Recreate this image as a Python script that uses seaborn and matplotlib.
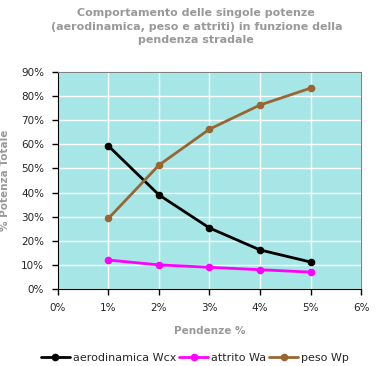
import pandas as pd
import matplotlib
matplotlib.use('Agg')
import matplotlib.pyplot as plt
import seaborn as sns

pendenze = [1, 2, 3, 4, 5]
aerodinamica = [59.3, 39.0, 25.3, 16.2, 11.2]
attrito = [12.0, 10.0, 9.0, 8.0, 7.0]
peso = [29.3, 51.4, 66.3, 76.3, 83.3]
serie = ['aerodinamica Wcx', 'attrito Wa', 'peso Wp']
colori = ['#000000', '#FF00FF', '#996633']

df = pd.DataFrame({
    'Pendenza': pendenze * 3,
    'Valore': aerodinamica + attrito + peso,
    'Serie': [serie[0]] * 5 + [serie[1]] * 5 + [serie[2]] * 5,
})

sns.set_style('white')
plt.rcParams['font.family'] = ['DejaVu Sans']

fig = plt.figure(figsize=(3.85, 3.66), dpi=100)
ax = fig.add_axes([0.1506, 0.2104, 0.7871, 0.5929])
ax.set_facecolor('#A6E6E6')
g = sns.lineplot(data=df, x='Pendenza', y='Valore', hue='Serie', palette=colori,
                 marker='o', markersize=5.5, markeredgewidth=0, linewidth=2, ax=ax)

ax.set_xlim(0, 6)
ax.set_ylim(0, 90)
ax.set_xticks(range(0, 7))
ax.set_xticklabels([f'{i}%' for i in range(0, 7)], fontsize=7.5)
ax.set_yticks(range(0, 91, 10))
ax.set_yticklabels([f'{i}%' for i in range(0, 91, 10)], fontsize=7.5)
ax.grid(True, color='white', linewidth=1)
ax.tick_params(axis='both', direction='out', length=4, width=1, color='black',
               bottom=True, left=True, pad=6)
for s in ['left', 'bottom']:
    ax.spines[s].set_color('black')
for s in ['top', 'right']:
    ax.spines[s].set_color('#808080')

ax.set_xlabel('Pendenze %', fontsize=7.5, fontweight='bold', color='#999999')
ax.xaxis.set_label_coords(0.5, -0.17)
ax.set_ylabel('% Potenza Totale', fontsize=7.5, fontweight='bold', color='#999999')
ax.yaxis.set_label_coords(-0.158, 0.5)

fig.text(0.51, 0.978, 'Comportamento delle singole potenze\n(aerodinamica, peso e attriti) in funzione della\npendenza stradale',
         ha='center', va='top', fontsize=8, fontweight='bold', color='#999999', linespacing=1.45)

ax.legend(loc='center', bbox_to_anchor=(0.452, -0.318), ncol=3, frameon=False,
          fontsize=8, handlelength=2.6, columnspacing=0.3, handletextpad=0.25)

fig.savefig('out.png', dpi=100)
